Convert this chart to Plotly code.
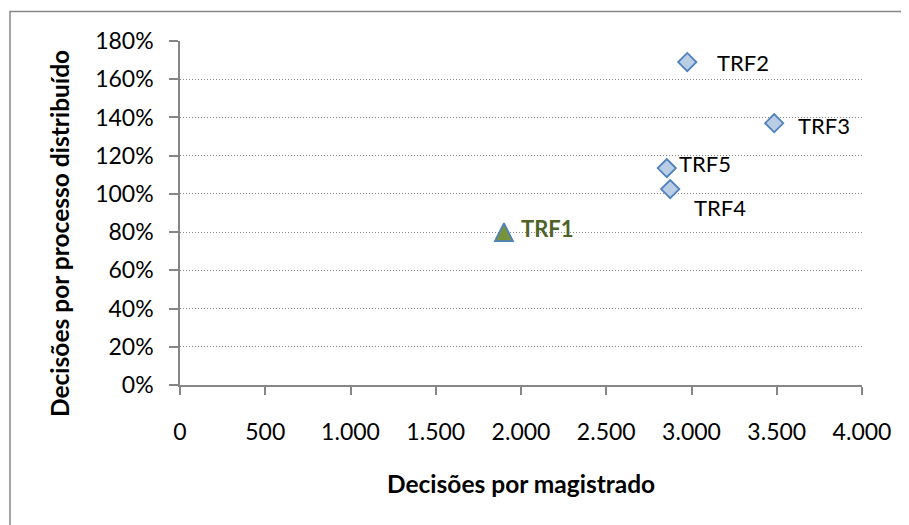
import plotly.graph_objects as go

# Data
names = ["TRF1", "TRF2", "TRF3", "TRF4", "TRF5"]
decisoes_magistrado = [1900, 2975, 3485, 2875, 2855]
decisoes_processo = [0.80, 1.69, 1.37, 1.025, 1.135]

x_ticks = [0, 500, 1000, 1500, 2000, 2500, 3000, 3500, 4000]
y_ticks = [0, 0.2, 0.4, 0.6, 0.8, 1.0, 1.2, 1.4, 1.6, 1.8]

x_title = "Decisões por magistrado"
y_title = "Decisões por processo distribuído"
highlight = "TRF1"

# Style
FONT = "Lato, Calibri, Carlito, sans-serif"
GRAY = "#868686"
label_offsets = {  # (xshift, yshift) in px
    "TRF1": (15, 4),
    "TRF2": (28, 0),
    "TRF3": (22, -2),
    "TRF4": (22, -18),
    "TRF5": (10, 5),
}

fig = go.Figure()

others = [i for i, n in enumerate(names) if n != highlight]
hi = [i for i, n in enumerate(names) if n == highlight]

fig.add_trace(go.Scatter(
    x=[decisoes_magistrado[i] for i in others],
    y=[decisoes_processo[i] for i in others],
    mode="markers",
    marker=dict(symbol="diamond", size=14, color="#b9cde5",
                line=dict(color="#4f81bd", width=1.8)),
    showlegend=False, hoverinfo="skip",
))
fig.add_trace(go.Scatter(
    x=[decisoes_magistrado[i] for i in hi],
    y=[decisoes_processo[i] for i in hi],
    mode="markers",
    marker=dict(symbol="arrow-down", angle=180, size=18, standoff=9,
                color="#77933c", line=dict(color="#4f81bd", width=1.8)),
    showlegend=False, hoverinfo="skip",
))

for n, xv, yv in zip(names, decisoes_magistrado, decisoes_processo):
    dx, dy = label_offsets[n]
    is_hi = n == highlight
    fig.add_annotation(
        x=xv, y=yv, xref="x", yref="y", text=f"<b>{n}</b>" if is_hi else n,
        showarrow=False, xanchor="left", yanchor="middle",
        xshift=dx, yshift=dy,
        font=dict(family=FONT, size=22, color="#4f6228" if is_hi else "#000000"),
    )

# Axis titles
fig.add_annotation(
    xref="paper", yref="paper", x=0.5, y=(377 - 475) / 344,
    text=f"<b>{x_title}</b>", showarrow=False, xanchor="center", yanchor="middle",
    font=dict(family=FONT, size=24.5, color="#000000"),
)
fig.add_annotation(
    xref="paper", yref="paper", x=(51 - 172) / 682, y=(377 - 226) / 344,
    text=f"<b>{y_title}</b>", showarrow=False, xanchor="center", yanchor="middle",
    textangle=-90,
    font=dict(family=FONT, size=24.5, color="#000000"),
)

# Outer frame
fig.add_shape(type="rect", xref="paper", yref="paper",
              x0=(2 - 172) / 682, x1=(930 - 172) / 682,
              y0=(377 - 560) / 344, y1=(377 - 3.5) / 344,
              line=dict(color=GRAY, width=1.5), fillcolor="rgba(0,0,0,0)",
              layer="below")

fig.update_layout(
    width=909, height=525,
    margin=dict(l=172, r=55, t=33, b=148),
    paper_bgcolor="white", plot_bgcolor="white",
    separators=",.",
    font=dict(family=FONT, size=23, color="#000000"),
    xaxis=dict(
        range=[0, 4000], tickvals=x_ticks, tickformat=",d",
        showgrid=False, zeroline=False,
        showline=True, linecolor=GRAY, linewidth=1.5,
        ticks="outside", ticklen=8, tickcolor=GRAY, tickwidth=1.5,
        ticklabelstandoff=18,
        tickfont=dict(family=FONT, size=23),
    ),
    yaxis=dict(
        range=[0, 1.8], tickvals=y_ticks, tickformat=".0%",
        showgrid=True, gridcolor=GRAY, gridwidth=1, griddash="1px,2px",
        zeroline=False,
        showline=True, linecolor=GRAY, linewidth=1.5,
        ticks="outside", ticklen=9, tickcolor=GRAY, tickwidth=1.5,
        ticklabelstandoff=11,
        tickfont=dict(family=FONT, size=23),
    ),
)

fig.write_html("out.html")
